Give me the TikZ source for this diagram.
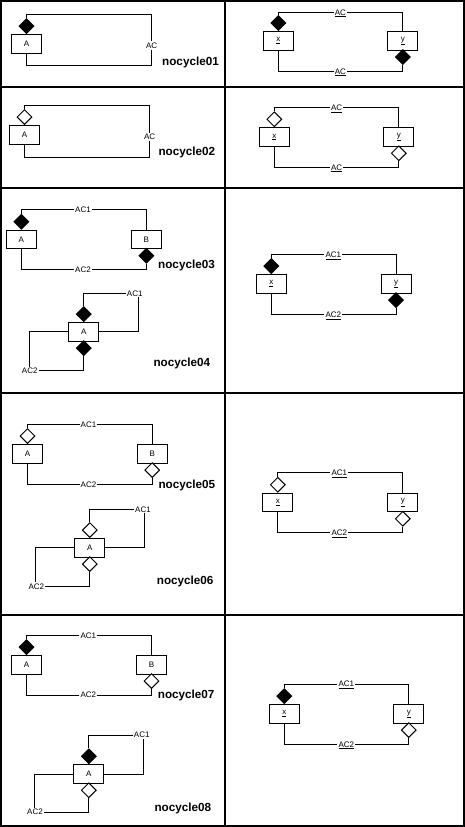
\documentclass[tikz,border=0pt]{standalone}
\usepackage{fontspec}
\setmainfont{Liberation Sans}
\usetikzlibrary{shapes.geometric}
\begin{document}
\begin{tikzpicture}[x=1pt,y=-1pt,
  frame/.style={line width=2pt},
  wire/.style={line width=1pt},
  box/.style={draw, line width=1pt, fill=white, minimum width=30pt, minimum height=18.5pt, inner sep=0pt, font=\fontsize{8}{9}\selectfont},
  fdia/.style={diamond, draw, fill=black, line width=1pt, minimum width=15pt, minimum height=15pt, inner sep=0pt},
  hdia/.style={diamond, draw, fill=white, line width=1pt, minimum width=15pt, minimum height=15pt, inner sep=0pt},
  lbl/.style={font=\fontsize{8}{9}\selectfont, fill=white, inner sep=1pt, text height=5.7pt, text depth=0pt},
  cellname/.style={font=\bfseries\fontsize{11.7}{13}\selectfont, anchor=base west, inner sep=0pt}]
\useasboundingbox (0,0) rectangle (465,827);
\fill[white] (0,0) rectangle (465,827);
% table
\draw[frame] (1,1) rectangle (464,826);
\draw[frame] (225,1) -- (225,826);
\foreach \yy in {87,188,393,615} \draw[frame] (1,\yy) -- (464,\yy);

% ---------- nocycle01 ----------
\node[box] (A1) at (26.5,43.8) {A};
\node[fdia,anchor=south] (A1t) at (A1.north) {};
\node[lbl] (L1) at (151.7,45.5) {AC};
\coordinate (c1a) at (151.7,14.5);
\coordinate (c1b) at (151.7,65.7);
\draw[wire] (A1t.north) |- (c1a) -- (L1.north);
\draw[wire] (L1.south) -- (c1b) -| (A1.south);
\node[cellname] (n01) at (162,65.7) {nocycle01};

% ---------- nocycle02 ----------
\node[box] (A2) at (24.5,134.8) {A};
\node[hdia,anchor=south] (A2t) at (A2.north) {};
\node[lbl] (L2) at (149.7,137) {AC};
\coordinate (c2a) at (149.7,105.8);
\coordinate (c2b) at (149.7,157.3);
\draw[wire] (A2t.north) |- (c2a) -- (L2.north);
\draw[wire] (L2.south) -- (c2b) -| (A2.south);
\node[cellname] (n02) at (158.3,155.7) {nocycle02};

% ---------- right 1 ----------
\node[box] (X1) at (278.3,40.8) {\underline{x}};
\node[box] (Y1) at (402.8,40.8) {\underline{y}};
\node[fdia,anchor=south] (X1t) at (X1.north) {};
\node[fdia,anchor=north] (Y1b) at ([yshift=1.5pt]Y1.south) {};
\node[lbl] (R1a) at (340.4,12.2) {\underline{AC}};
\node[lbl] (R1b) at (340.4,71.2) {\underline{AC}};
\draw[wire] (X1t.north) |- (R1a.west);
\draw[wire] (R1a.east) -| (Y1.north);
\draw[wire] (X1.south) |- (R1b.west);
\draw[wire] (R1b.east) -| (Y1b.south);

% ---------- right 2 ----------
\node[box] (X2) at (274.3,137) {\underline{x}};
\node[box] (Y2) at (398.8,137) {\underline{y}};
\node[hdia,anchor=south] (X2t) at (X2.north) {};
\node[hdia,anchor=north] (Y2b) at ([yshift=1.5pt]Y2.south) {};
\node[lbl] (R2a) at (336.7,107.8) {\underline{AC}};
\node[lbl] (R2b) at (336.7,167.2) {\underline{AC}};
\draw[wire] (X2t.north) |- (R2a.west);
\draw[wire] (R2a.east) -| (Y2.north);
\draw[wire] (X2.south) |- (R2b.west);
\draw[wire] (R2b.east) -| (Y2b.south);

% ---------- nocycle03 ----------
\node[box] (A3) at (21.3,239.5) {A};
\node[box] (B3) at (146.3,239.5) {B};
\node[fdia,anchor=south] (A3t) at (A3.north) {};
\node[fdia,anchor=north] (B3b) at ([yshift=1.5pt]B3.south) {};
\node[lbl] (L3a) at (83,209.5) {AC1};
\node[lbl] (L3b) at (83,269.3) {AC2};
\draw[wire] (A3t.north) |- (L3a.west);
\draw[wire] (L3a.east) -| (B3.north);
\draw[wire] (A3.south) |- (L3b.west);
\draw[wire] (L3b.east) -| (B3b.south);
\node[cellname] (n03) at (158,268) {nocycle03};

% ---------- nocycle04 ----------
\node[box] (A4) at (83.8,331.8) {A};
\node[fdia,anchor=south] (A4t) at (A4.north) {};
\node[fdia,anchor=north] (A4b) at ([yshift=1.5pt]A4.south) {};
\node[lbl] (L4a) at (134.7,293.3) {AC1};
\node[lbl] (L4b) at (29.7,370.7) {AC2};
\draw[wire] (A4t.north) |- (L4a.west);
\draw[wire] (A4.east) -| ([xshift=4pt]L4a.south);
\draw[wire] (A4.west) -| (L4b.north);
\draw[wire] (A4b.south) |- (L4b.east);
\node[cellname] (n04) at (153.3,366) {nocycle04};

% ---------- right 3 ----------
\node[box] (X3) at (271.3,283.8) {\underline{x}};
\node[box] (Y3) at (396,283.8) {\underline{y}};
\node[fdia,anchor=south] (X3t) at (X3.north) {};
\node[fdia,anchor=north] (Y3b) at ([yshift=1.5pt]Y3.south) {};
\node[lbl] (R3a) at (333.3,254.5) {\underline{AC1}};
\node[lbl] (R3b) at (333.3,314.5) {\underline{AC2}};
\draw[wire] (X3t.north) |- (R3a.west);
\draw[wire] (R3a.east) -| (Y3.north);
\draw[wire] (X3.south) |- (R3b.west);
\draw[wire] (R3b.east) -| (Y3b.south);

% ---------- nocycle05 ----------
\node[box] (A5) at (27.5,453.8) {A};
\node[box] (B5) at (152.2,453.8) {B};
\node[hdia,anchor=south] (A5t) at (A5.north) {};
\node[hdia,anchor=north] (B5b) at ([yshift=1.5pt]B5.south) {};
\node[lbl] (L5a) at (88.5,424.3) {AC1};
\node[lbl] (L5b) at (88.5,484.3) {AC2};
\draw[wire] (A5t.north) |- (L5a.west);
\draw[wire] (L5a.east) -| (B5.north);
\draw[wire] (A5.south) |- (L5b.west);
\draw[wire] (L5b.east) -| (B5b.south);
\node[cellname] (n05) at (158.3,488.3) {nocycle05};

% ---------- nocycle06 ----------
\node[box] (A6) at (89.8,547.8) {A};
\node[hdia,anchor=south] (A6t) at (A6.north) {};
\node[hdia,anchor=north] (A6b) at ([yshift=1.5pt]A6.south) {};
\node[lbl] (L6a) at (143,509.3) {AC1};
\node[lbl] (L6b) at (36.3,586.5) {AC2};
\draw[wire] (A6t.north) |- (L6a.west);
\draw[wire] (A6.east) -| ([xshift=1.3pt]L6a.south);
\draw[wire] (A6.west) -| ([xshift=-1pt]L6b.north);
\draw[wire] (A6b.south) |- (L6b.east);
\node[cellname] (n06) at (156.7,584) {nocycle06};

% ---------- right 4 ----------
\node[box] (X4) at (277.8,502.5) {\underline{x}};
\node[box] (Y4) at (402.8,502.5) {\underline{y}};
\node[hdia,anchor=south] (X4t) at (X4.north) {};
\node[hdia,anchor=north] (Y4b) at ([yshift=1.5pt]Y4.south) {};
\node[lbl] (R4a) at (339.3,472.5) {\underline{AC1}};
\node[lbl] (R4b) at (339.3,532.5) {\underline{AC2}};
\draw[wire] (X4t.north) |- (R4a.west);
\draw[wire] (R4a.east) -| (Y4.north);
\draw[wire] (X4.south) |- (R4b.west);
\draw[wire] (R4b.east) -| (Y4b.south);

% ---------- nocycle07 ----------
\node[box] (A7) at (26.5,664.8) {A};
\node[box] (B7) at (151.5,664.8) {B};
\node[fdia,anchor=south] (A7t) at (A7.north) {};
\node[hdia,anchor=north] (B7b) at ([yshift=1.5pt]B7.south) {};
\node[lbl] (L7a) at (88.3,635.5) {AC1};
\node[lbl] (L7b) at (88.3,695) {AC2};
\draw[wire] (A7t.north) |- (L7a.west);
\draw[wire] (L7a.east) -| (B7.north);
\draw[wire] (A7.south) |- (L7b.west);
\draw[wire] (L7b.east) -| (B7b.south);
\node[cellname] (n07) at (157.7,698.7) {nocycle07};

% ---------- nocycle08 ----------
\node[box] (A8) at (88.8,774) {A};
\node[fdia,anchor=south] (A8t) at (A8.north) {};
\node[hdia,anchor=north] (A8b) at ([yshift=1.5pt]A8.south) {};
\node[lbl] (L8a) at (141.7,735) {AC1};
\node[lbl] (L8b) at (35,812) {AC2};
\draw[wire] (A8t.north) |- (L8a.west);
\draw[wire] (A8.east) -| ([xshift=1.6pt]L8a.south);
\draw[wire] (A8.west) -| ([xshift=-0.7pt]L8b.north);
\draw[wire] (A8b.south) |- (L8b.east);
\node[cellname] (n08) at (154.3,811.3) {nocycle08};

% ---------- right 5 ----------
\node[box] (X5) at (284.3,713.8) {\underline{x}};
\node[box] (Y5) at (408.8,713.8) {\underline{y}};
\node[fdia,anchor=south] (X5t) at (X5.north) {};
\node[hdia,anchor=north] (Y5b) at ([yshift=1.5pt]Y5.south) {};
\node[lbl] (R5a) at (346.3,684) {\underline{AC1}};
\node[lbl] (R5b) at (346.3,744.3) {\underline{AC2}};
\draw[wire] (X5t.north) |- (R5a.west);
\draw[wire] (R5a.east) -| (Y5.north);
\draw[wire] (X5.south) |- (R5b.west);
\draw[wire] (R5b.east) -| (Y5b.south);
\end{tikzpicture}
\end{document}
